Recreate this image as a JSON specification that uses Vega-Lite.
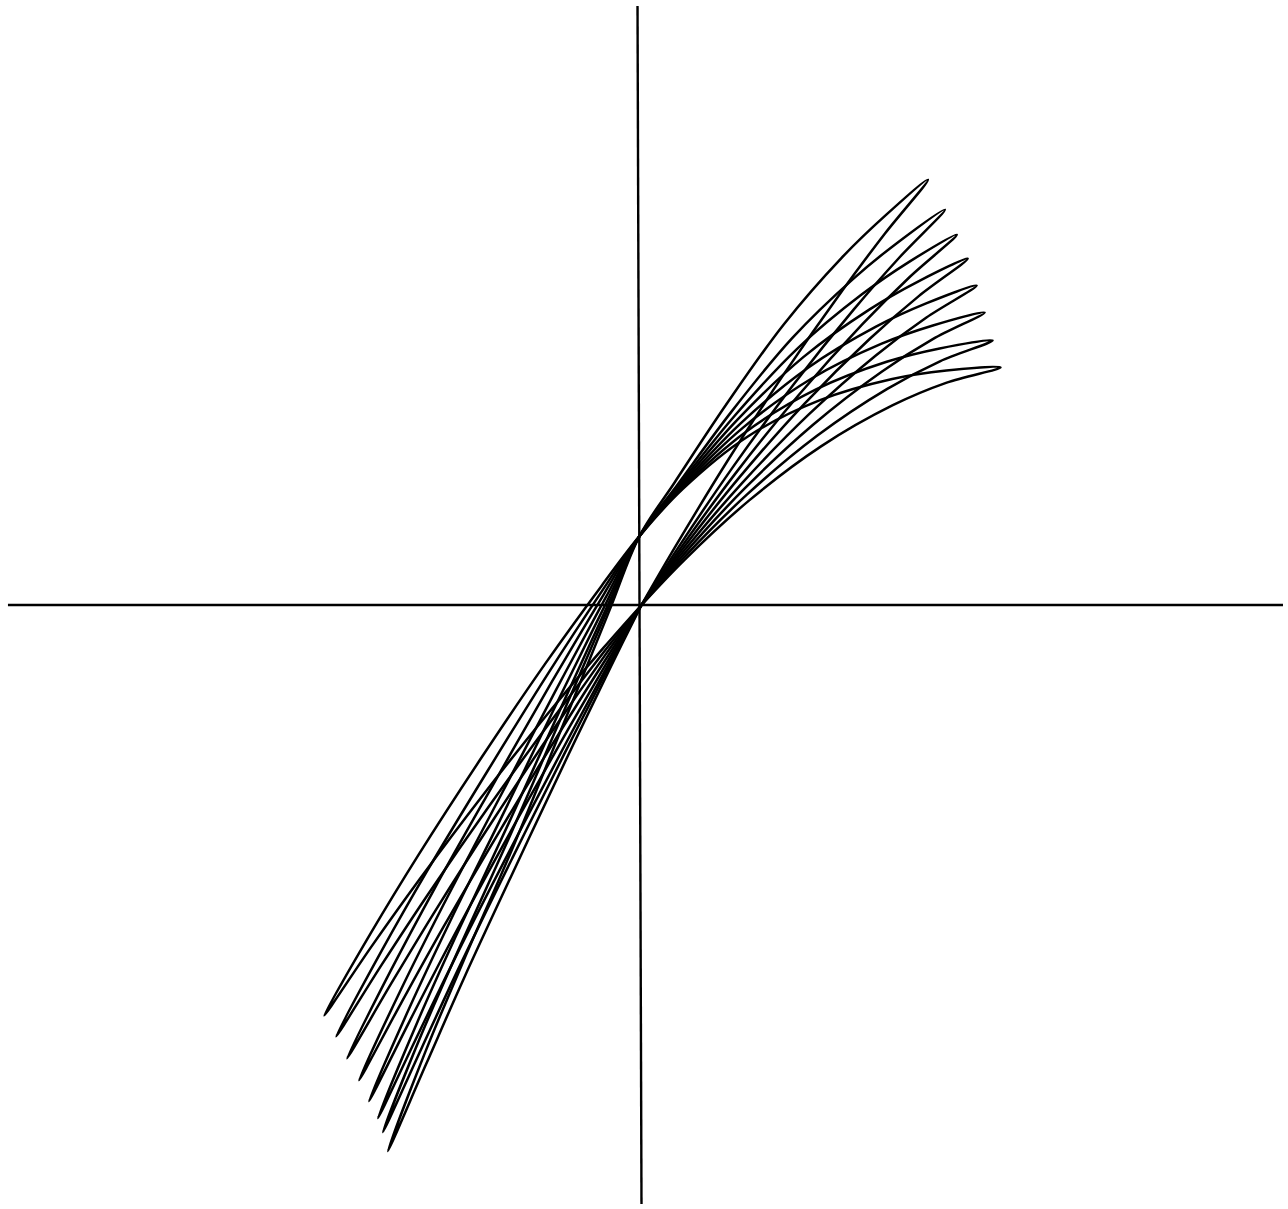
{
  "$schema": "https://vega.github.io/schema/vega-lite/v6.json",
  "width": 1288,
  "height": 1209,
  "autosize": {"type": "fit", "contains": "padding"},
  "padding": 0,
  "background": "white",
  "config": {"view": {"stroke": null}},
  "datasets": {
    "axes": [
      {"a": "h", "i": 0, "x": -637, "y": 0},
      {"a": "h", "i": 1, "x": 645, "y": 0},
      {"a": "v", "i": 0, "x": -4, "y": 600},
      {"a": "v", "i": 1, "x": 0, "y": -600}
    ],
    "loops": [
      {"k":1,"i":0,"x":0,"y":0},{"k":1,"i":1,"x":34.6,"y":59.4},{"k":1,"i":2,"x":86.4,"y":144.2},{"k":1,"i":3,"x":144,"y":232.5},{"k":1,"i":4,"x":201.6,"y":314.6},{"k":1,"i":5,"x":244.8,"y":372.1},{"k":1,"i":6,"x":288,"y":426},{"k":1,"i":7,"x":244.5,"y":389.5},{"k":1,"i":8,"x":201,"y":347.5},{"k":1,"i":9,"x":143,"y":281},{"k":1,"i":10,"x":85,"y":200.5},{"k":1,"i":11,"x":32.8,"y":122},{"k":1,"i":12,"x":-2,"y":69},{"k":1,"i":13,"x":-32.4,"y":-5.9},{"k":1,"i":14,"x":-77.9,"y":-117.7},{"k":1,"i":15,"x":-128.5,"y":-240.8},{"k":1,"i":16,"x":-179.1,"y":-356.8},{"k":1,"i":17,"x":-217.05,"y":-446.9},{"k":1,"i":18,"x":-255,"y":-547},{"k":1,"i":19,"x":-216.75,"y":-460.3},{"k":1,"i":20,"x":-178.5,"y":-373.8},{"k":1,"i":21,"x":-127.5,"y":-264.1},{"k":1,"i":22,"x":-76.5,"y":-156.3},{"k":1,"i":23,"x":-30.6,"y":-61.2},{"k":1,"i":24,"x":0,"y":0},
      {"k":2,"i":0,"x":0,"y":0},{"k":2,"i":1,"x":36.6,"y":57.0},{"k":2,"i":2,"x":91.5,"y":137.6},{"k":2,"i":3,"x":152.5,"y":220.4},{"k":2,"i":4,"x":213.5,"y":296.1},{"k":2,"i":5,"x":259.3,"y":348.1},{"k":2,"i":6,"x":305,"y":396},{"k":2,"i":7,"x":259.0,"y":364.2},{"k":2,"i":8,"x":212.9,"y":326.7},{"k":2,"i":9,"x":151.5,"y":267.3},{"k":2,"i":10,"x":90.1,"y":193.2},{"k":2,"i":11,"x":34.9,"y":118.7},{"k":2,"i":12,"x":-2,"y":69},{"k":2,"i":13,"x":-33.0,"y":-2.3},{"k":2,"i":14,"x":-79.4,"y":-109.5},{"k":2,"i":15,"x":-131.0,"y":-228.4},{"k":2,"i":16,"x":-182.6,"y":-342.2},{"k":2,"i":17,"x":-221.3,"y":-430.3},{"k":2,"i":18,"x":-260,"y":-528},{"k":2,"i":19,"x":-221.0,"y":-443.7},{"k":2,"i":20,"x":-182.0,"y":-360.0},{"k":2,"i":21,"x":-130.0,"y":-253.8},{"k":2,"i":22,"x":-78.0,"y":-149.9},{"k":2,"i":23,"x":-31.2,"y":-58.6},{"k":2,"i":24,"x":0,"y":0},
      {"k":3,"i":0,"x":0,"y":0},{"k":3,"i":1,"x":38.1,"y":55.2},{"k":3,"i":2,"x":95.1,"y":132.6},{"k":3,"i":3,"x":158.5,"y":210.8},{"k":3,"i":4,"x":221.9,"y":281.0},{"k":3,"i":5,"x":269.4,"y":328.3},{"k":3,"i":6,"x":317,"y":371},{"k":3,"i":7,"x":269.1,"y":343.7},{"k":3,"i":8,"x":221.3,"y":310.9},{"k":3,"i":9,"x":157.5,"y":257.6},{"k":3,"i":10,"x":93.7,"y":189.6},{"k":3,"i":11,"x":36.3,"y":118.4},{"k":3,"i":12,"x":-2,"y":69},{"k":3,"i":13,"x":-33.6,"y":0.6},{"k":3,"i":14,"x":-80.9,"y":-102.8},{"k":3,"i":15,"x":-133.5,"y":-218.5},{"k":3,"i":16,"x":-186.1,"y":-330.6},{"k":3,"i":17,"x":-225.5,"y":-418.1},{"k":3,"i":18,"x":-265,"y":-514},{"k":3,"i":19,"x":-225.3,"y":-431.4},{"k":3,"i":20,"x":-185.5,"y":-349.7},{"k":3,"i":21,"x":-132.5,"y":-246.0},{"k":3,"i":22,"x":-79.5,"y":-145.0},{"k":3,"i":23,"x":-31.8,"y":-56.7},{"k":3,"i":24,"x":0,"y":0},
      {"k":4,"i":0,"x":0,"y":0},{"k":4,"i":1,"x":39.4,"y":53.6},{"k":4,"i":2,"x":98.4,"y":127.8},{"k":4,"i":3,"x":164.0,"y":201.8},{"k":4,"i":4,"x":229.6,"y":266.7},{"k":4,"i":5,"x":278.8,"y":309.4},{"k":4,"i":6,"x":328,"y":347},{"k":4,"i":7,"x":278.5,"y":324.2},{"k":4,"i":8,"x":229.0,"y":295.9},{"k":4,"i":9,"x":163.0,"y":248.5},{"k":4,"i":10,"x":97.0,"y":186.2},{"k":4,"i":11,"x":37.6,"y":118.3},{"k":4,"i":12,"x":-2,"y":69},{"k":4,"i":13,"x":-34.6,"y":3.9},{"k":4,"i":14,"x":-83.6,"y":-95.1},{"k":4,"i":15,"x":-138.0,"y":-207.0},{"k":4,"i":16,"x":-192.4,"y":-316.8},{"k":4,"i":17,"x":-233.2,"y":-403.2},{"k":4,"i":18,"x":-274,"y":-497},{"k":4,"i":19,"x":-233.0,"y":-416.5},{"k":4,"i":20,"x":-191.8,"y":-337.3},{"k":4,"i":21,"x":-137.0,"y":-236.7},{"k":4,"i":22,"x":-82.2,"y":-139.3},{"k":4,"i":23,"x":-32.9,"y":-54.4},{"k":4,"i":24,"x":0,"y":0},
      {"k":5,"i":0,"x":0,"y":0},{"k":5,"i":1,"x":40.4,"y":51.5},{"k":5,"i":2,"x":101.1,"y":122.1},{"k":5,"i":3,"x":168.5,"y":191.1},{"k":5,"i":4,"x":235.9,"y":250.2},{"k":5,"i":5,"x":286.5,"y":287.9},{"k":5,"i":6,"x":337,"y":320},{"k":5,"i":7,"x":286.2,"y":302.1},{"k":5,"i":8,"x":235.3,"y":278.6},{"k":5,"i":9,"x":167.5,"y":237.7},{"k":5,"i":10,"x":99.7,"y":181.9},{"k":5,"i":11,"x":38.7,"y":117.8},{"k":5,"i":12,"x":-2,"y":69},{"k":5,"i":13,"x":-35.8,"y":7.8},{"k":5,"i":14,"x":-86.6,"y":-86.3},{"k":5,"i":15,"x":-143.0,"y":-193.6},{"k":5,"i":16,"x":-199.4,"y":-300.8},{"k":5,"i":17,"x":-241.7,"y":-384.9},{"k":5,"i":18,"x":-284,"y":-476},{"k":5,"i":19,"x":-241.4,"y":-398.2},{"k":5,"i":20,"x":-198.8,"y":-322.0},{"k":5,"i":21,"x":-142.0,"y":-225.4},{"k":5,"i":22,"x":-85.2,"y":-132.3},{"k":5,"i":23,"x":-34.1,"y":-51.6},{"k":5,"i":24,"x":0,"y":0},
      {"k":6,"i":0,"x":0,"y":0},{"k":6,"i":1,"x":41.4,"y":49.5},{"k":6,"i":2,"x":103.5,"y":116.5},{"k":6,"i":3,"x":172.5,"y":180.6},{"k":6,"i":4,"x":241.5,"y":233.7},{"k":6,"i":5,"x":293.3,"y":266.5},{"k":6,"i":6,"x":345,"y":293},{"k":6,"i":7,"x":293.0,"y":280.0},{"k":6,"i":8,"x":240.9,"y":261.5},{"k":6,"i":9,"x":171.5,"y":227.1},{"k":6,"i":10,"x":102.1,"y":177.7},{"k":6,"i":11,"x":39.7,"y":117.4},{"k":6,"i":12,"x":-2,"y":69},{"k":6,"i":13,"x":-37.3,"y":11.7},{"k":6,"i":14,"x":-90.2,"y":-77.1},{"k":6,"i":15,"x":-149.0,"y":-179.6},{"k":6,"i":16,"x":-207.8,"y":-283.5},{"k":6,"i":17,"x":-251.9,"y":-365.8},{"k":6,"i":18,"x":-296,"y":-454},{"k":6,"i":19,"x":-251.6,"y":-379.1},{"k":6,"i":20,"x":-207.2,"y":-306.1},{"k":6,"i":21,"x":-148.0,"y":-213.6},{"k":6,"i":22,"x":-88.8,"y":-125.0},{"k":6,"i":23,"x":-35.5,"y":-48.7},{"k":6,"i":24,"x":0,"y":0},
      {"k":7,"i":0,"x":0,"y":0},{"k":7,"i":1,"x":42.3,"y":47.3},{"k":7,"i":2,"x":105.9,"y":110.5},{"k":7,"i":3,"x":176.5,"y":169.5},{"k":7,"i":4,"x":247.1,"y":216.5},{"k":7,"i":5,"x":300.1,"y":244.1},{"k":7,"i":6,"x":353,"y":265},{"k":7,"i":7,"x":299.8,"y":257.0},{"k":7,"i":8,"x":246.5,"y":243.6},{"k":7,"i":9,"x":175.5,"y":215.9},{"k":7,"i":10,"x":104.5,"y":173.1},{"k":7,"i":11,"x":40.6,"y":116.8},{"k":7,"i":12,"x":-2,"y":69},{"k":7,"i":13,"x":-38.6,"y":15.6},{"k":7,"i":14,"x":-93.5,"y":-68.0},{"k":7,"i":15,"x":-154.5,"y":-165.8},{"k":7,"i":16,"x":-215.5,"y":-266.4},{"k":7,"i":17,"x":-261.2,"y":-346.3},{"k":7,"i":18,"x":-307,"y":-432},{"k":7,"i":19,"x":-261.0,"y":-360.0},{"k":7,"i":20,"x":-214.9,"y":-290.2},{"k":7,"i":21,"x":-153.5,"y":-201.8},{"k":7,"i":22,"x":-92.1,"y":-117.7},{"k":7,"i":23,"x":-36.9,"y":-45.8},{"k":7,"i":24,"x":0,"y":0},
      {"k":8,"i":0,"x":0,"y":0},{"k":8,"i":1,"x":43.3,"y":45.3},{"k":8,"i":2,"x":108.3,"y":104.8},{"k":8,"i":3,"x":180.5,"y":158.9},{"k":8,"i":4,"x":252.7,"y":200.1},{"k":8,"i":5,"x":306.9,"y":222.7},{"k":8,"i":6,"x":361,"y":238},{"k":8,"i":7,"x":306.6,"y":234.9},{"k":8,"i":8,"x":252.1,"y":226.4},{"k":8,"i":9,"x":179.5,"y":205.2},{"k":8,"i":10,"x":106.9,"y":168.8},{"k":8,"i":11,"x":41.6,"y":116.3},{"k":8,"i":12,"x":-2,"y":69},{"k":8,"i":13,"x":-40.0,"y":19.4},{"k":8,"i":14,"x":-97.1,"y":-59.2},{"k":8,"i":15,"x":-160.5,"y":-152.3},{"k":8,"i":16,"x":-223.9,"y":-249.8},{"k":8,"i":17,"x":-271.45,"y":-327.5},{"k":8,"i":18,"x":-319,"y":-411},{"k":8,"i":19,"x":-271.2,"y":-341.7},{"k":8,"i":20,"x":-223.3,"y":-275.0},{"k":8,"i":21,"x":-159.5,"y":-190.5},{"k":8,"i":22,"x":-95.7,"y":-110.7},{"k":8,"i":23,"x":-38.3,"y":-43.0},{"k":8,"i":24,"x":0,"y":0}
    ]
  },
  "encoding": {
    "x": {"field": "x", "type": "quantitative", "scale": {"domain": [-645, 643], "nice": false, "zero": false}, "axis": null},
    "y": {"field": "y", "type": "quantitative", "scale": {"domain": [-603, 606], "nice": false, "zero": false}, "axis": null}
  },
  "layer": [
    {
      "data": {"name": "axes"},
      "mark": {"type": "line", "color": "black", "strokeWidth": 2.4, "clip": false},
      "encoding": {"detail": {"field": "a"}, "order": {"field": "i", "type": "quantitative"}}
    },
    {
      "data": {"name": "loops"},
      "mark": {"type": "line", "color": "black", "strokeWidth": 2.5, "interpolate": "catmull-rom", "strokeJoin": "round", "strokeCap": "round"},
      "encoding": {"detail": {"field": "k"}, "order": {"field": "i", "type": "quantitative"}}
    }
  ]
}
